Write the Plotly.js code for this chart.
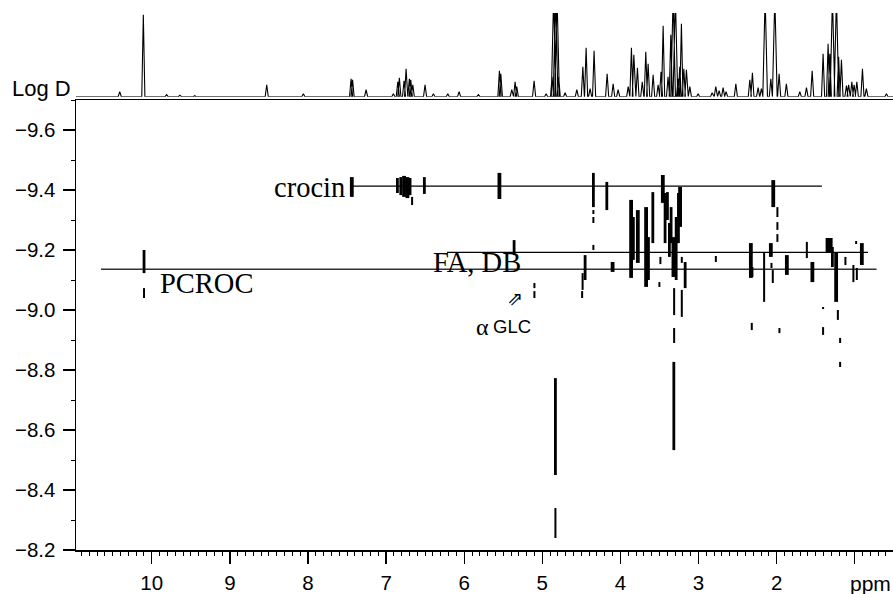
<!DOCTYPE html>
<html>
<head>
<meta charset="utf-8">
<script src="https://cdn.plot.ly/plotly-3.0.1.min.js"></script>
<style>html,body{margin:0;padding:0;background:#fff;}#plot{width:893px;height:594px;}</style>
</head>
<body>
<div id="plot"></div>
<script>
// ---- 1D projection spectrum (peak positions in ppm, heights in relative units, 100 = off scale) ----
const specPpm = [10.41, 10.108, 9.81, 9.64, 9.45, 8.528, 8.059, 7.448, 7.429, 7.256, 6.907, 6.850, 6.830, 6.770, 6.744, 6.702, 6.684, 6.658, 6.501, 6.394, 6.210, 6.065, 5.818, 5.549, 5.531, 5.391, 5.348, 5.327, 5.105, 4.951, 4.875, 4.855, 4.830, 4.811, 4.790, 4.708, 4.558, 4.481, 4.439, 4.388, 4.337, 4.170, 4.093, 4.029, 3.90, 3.859, 3.828, 3.782, 3.72, 3.675, 3.645, 3.581, 3.517, 3.48, 3.453, 3.390, 3.355, 3.325, 3.296, 3.262, 3.240, 3.219, 3.188, 3.155, 3.111, 3.005, 2.826, 2.779, 2.736, 2.685, 2.647, 2.522, 2.343, 2.310, 2.237, 2.195, 2.147, 2.074, 2.023, 1.968, 1.875, 1.703, 1.618, 1.545, 1.405, 1.341, 1.319, 1.285, 1.234, 1.206, 1.170, 1.106, 1.078, 1.037, 1.008, 0.973, 0.901, 0.851, 0.594];
const specHeight = [5, 82, 2, 1.5, 1, 12, 3, 18, 17, 7, 3, 15, 19, 16, 28, 18, 17, 12, 12, 3, 3, 5, 2, 26, 23, 7, 15, 10, 16, 3, 20, 100, 100, 100, 20, 4, 7, 30, 49, 8, 46, 23, 13, 7, 10, 49, 42, 29, 15, 45, 33, 22, 12, 25, 71, 20, 62, 100, 100, 18, 30, 73, 28, 27, 10, 3, 4, 10, 6, 9, 5, 13, 17, 24, 9, 8, 100, 18, 100, 23, 13, 5, 9, 26, 43, 53, 43, 100, 100, 40, 37, 11, 12, 15, 12, 15, 28, 8, 3];

// ---- DOSY cross peaks: chemical shift (ppm), log D extent, contour intensity class ----
const blobPpm = [10.099, 10.099, 7.439, 6.855, 6.812, 6.770, 6.727, 6.693, 6.667, 6.510, 5.549, 5.361, 5.101, 5.101, 4.346, 4.346, 4.346, 4.346, 4.174, 4.452, 4.484, 4.490, 4.100, 3.863, 3.834, 3.777, 3.671, 3.641, 3.585, 3.501, 3.488, 3.457, 3.428, 3.398, 3.373, 3.351, 3.321, 3.286, 3.257, 3.236, 3.214, 3.171, 3.312, 3.312, 3.316, 3.214, 4.832, 4.832, 2.778, 2.330, 2.310, 2.318, 2.160, 2.074, 2.066, 2.049, 2.043, 1.990, 1.990, 1.990, 1.964, 1.869, 1.613, 1.542, 1.405, 1.405, 1.328, 1.286, 1.238, 1.216, 1.187, 1.187, 1.119, 1.017, 0.973, 0.982, 0.909];
const blobTop = [-9.200, -9.073, -9.443, -9.440, -9.443, -9.447, -9.443, -9.440, -9.377, -9.443, -9.457, -9.233, -9.090, -9.063, -9.457, -9.333, -9.310, -9.217, -9.427, -9.183, -9.123, -9.063, -9.160, -9.367, -9.310, -9.333, -9.343, -9.243, -9.393, -9.093, -9.177, -9.450, -9.390, -9.393, -9.290, -9.343, -9.243, -9.310, -9.390, -9.410, -9.177, -9.160, -9.073, -8.940, -8.827, -9.067, -8.773, -8.340, -9.180, -9.223, -9.143, -8.957, -9.190, -9.223, -9.157, -9.133, -9.433, -9.343, -9.293, -9.253, -8.940, -9.183, -9.227, -9.160, -9.010, -8.943, -9.240, -9.210, -9.190, -9.000, -8.907, -8.827, -9.177, -9.150, -9.140, -9.230, -9.223];
const blobBottom = [-9.123, -9.040, -9.377, -9.390, -9.383, -9.377, -9.373, -9.383, -9.350, -9.387, -9.370, -9.183, -9.073, -9.040, -9.343, -9.320, -9.290, -9.200, -9.333, -9.100, -9.067, -9.040, -9.127, -9.107, -9.167, -9.157, -9.077, -9.100, -9.223, -9.077, -9.153, -9.357, -9.223, -9.300, -9.177, -9.223, -9.110, -9.100, -9.223, -9.277, -9.157, -9.073, -8.983, -8.890, -8.533, -8.977, -8.450, -8.240, -9.160, -9.107, -9.110, -8.933, -9.027, -9.177, -9.140, -9.090, -9.343, -9.310, -9.267, -9.227, -8.923, -9.117, -9.173, -9.093, -9.003, -8.917, -9.190, -9.143, -9.027, -8.967, -8.890, -8.810, -9.150, -9.093, -9.100, -9.220, -9.150];
const blobLevel = [2, 1, 3, 2, 2, 3, 3, 2, 1, 2, 3, 2, 1, 1, 2, 1, 1, 1, 2, 2, 1, 1, 3, 3, 2, 3, 3, 2, 2, 1, 1, 3, 2, 2, 2, 2, 3, 2, 2, 3, 1, 2, 1, 1, 2, 1, 2, 1, 1, 3, 1, 1, 1, 3, 1, 1, 3, 1, 1, 1, 1, 3, 1, 3, 1, 1, 4, 2, 3, 1, 1, 1, 1, 1, 1, 1, 3];

// ---- Diffusion bands of the assigned components ----
const compName = ['crocin', 'FA, DB', 'PCROC'];
const compLogD = [-9.413, -9.192, -9.136];
const compFrom = [7.46, 6.22, 10.65];
const compTo = [1.42, 0.83, 0.72];

// ---- Axis ticks ----
const xTickVals = [1, 2, 3, 4, 5, 6, 7, 8, 9, 10];
const xTickText = ['', '2', '3', '4', '5', '6', '7', '8', '9', '10'];
const yTickVals = [-9.6, -9.4, -9.2, -9.0, -8.8, -8.6, -8.4, -8.2];

const X_RANGE = [10.97, 0.51];
const Y_RANGE = [-8.2, -9.7];

const traces = [];

// spectrum trace built from the peak list
(function () {
  const idx = specPpm.map((_, i) => i).sort((a, b) => specPpm[b] - specPpm[a]);
  const xs = [X_RANGE[0]], ys = [0];
  idx.forEach(i => {
    const p = specPpm[i], h = specHeight[i];
    const hw = h >= 100 ? 0.03 : 0.02;
    xs.push(p + hw, p, p - hw);
    ys.push(0, h, 0);
  });
  xs.push(X_RANGE[1]); ys.push(0);
  traces.push({x: xs, y: ys, xaxis: 'x', yaxis: 'y2', mode: 'lines', type: 'scatter',
    line: {color: '#000', width: 1.1}, hoverinfo: 'skip', showlegend: false});
})();

// component lines
compName.forEach((n, i) => {
  traces.push({x: [compFrom[i], compTo[i]], y: [compLogD[i], compLogD[i]], mode: 'lines', type: 'scatter',
    line: {color: i === 2 ? '#333' : '#000', width: 1.4}, showlegend: false, hoverinfo: 'skip'});
});

// blobs
const widthByLevel = {1: 2, 2: 2.8, 3: 3.8, 4: 7};
[1, 2, 3, 4].forEach(lv => {
  const xs = [], ys = [];
  blobPpm.forEach((p, i) => {
    if (blobLevel[i] !== lv) return;
    xs.push(p, p, null);
    ys.push(blobTop[i], blobBottom[i], null);
  });
  traces.push({x: xs, y: ys, mode: 'lines', type: 'scatter', connectgaps: false,
    line: {color: '#000', width: widthByLevel[lv]}, showlegend: false, hoverinfo: 'skip'});
});

const sans = 'Liberation Sans, Arial, sans-serif';
const serif = 'Liberation Serif, Times New Roman, serif';

const layout = {
  width: 893, height: 594,
  margin: {l: 76, r: 0, t: 13, b: 44, pad: 0},
  paper_bgcolor: '#fff', plot_bgcolor: '#fff',
  showlegend: false,
  xaxis: {
    range: X_RANGE, showgrid: false, zeroline: false,
    showline: true, linecolor: '#000', linewidth: 1.5, mirror: true,
    ticks: 'outside', ticklen: 12, tickwidth: 1.3, tickcolor: '#000',
    tickvals: xTickVals, ticktext: xTickText, ticklabelstandoff: 2,
    tickfont: {family: sans, size: 20.5, color: '#000'},
    minor: {dtick: 0.1, tick0: 0, ticks: 'outside', ticklen: 4, tickwidth: 1, tickcolor: '#000', showgrid: false},
    anchor: 'y'
  },
  yaxis: {
    domain: [0, 450 / 537], range: Y_RANGE, showgrid: false, zeroline: false,
    showline: true, linecolor: '#000', linewidth: 1.5,
    ticks: 'outside', ticklen: 12, tickwidth: 1.3, tickcolor: '#000',
    tickvals: yTickVals, tickformat: '.1f', ticklabelstandoff: 3,
    tickfont: {family: sans, size: 20.5, color: '#000'},
    minor: {dtick: 0.1, tick0: 0, ticks: 'outside', ticklen: 4, tickwidth: 1, tickcolor: '#000', showgrid: false},
    anchor: 'x'
  },
  yaxis2: {
    domain: [(550 - 96.7) / 537, 1], range: [0, 83.7], visible: false, anchor: 'x',
    showgrid: false, zeroline: false
  },
  annotations: [
    {text: compName[0], x: 7.50, y: -9.41, xref: 'x', yref: 'y', xanchor: 'right', yanchor: 'middle',
      showarrow: false, font: {family: serif, size: 28.5, color: '#000'}},
    {text: compName[1], x: 5.83, y: -9.16, xref: 'x', yref: 'y', xanchor: 'center', yanchor: 'middle',
      showarrow: false, font: {family: serif, size: 28.5, color: '#000'}},
    {text: compName[2], x: 9.92, y: -9.087, xref: 'x', yref: 'y', xanchor: 'left', yanchor: 'middle',
      showarrow: false, font: {family: serif, size: 28.5, color: '#000'}},
    {text: 'α', x: 5.77, y: -8.942, xref: 'x', yref: 'y', xanchor: 'center', yanchor: 'middle',
      showarrow: false, font: {family: serif, size: 24, color: '#000'}},
    {text: 'GLC', x: 5.393, y: -8.945, xref: 'x', yref: 'y', xanchor: 'center', yanchor: 'middle',
      showarrow: false, font: {family: sans, size: 18.5, color: '#000'}},
    {text: '⇗', x: 5.35, y: -9.04, xref: 'x', yref: 'y', xanchor: 'center', yanchor: 'middle',
      showarrow: false, font: {family: 'DejaVu Sans', size: 19, color: '#000'}},
    {text: 'Log D', x: -0.004, y: 0, yshift: -6, xref: 'paper', yref: 'y2', xanchor: 'right', yanchor: 'bottom',
      showarrow: false, font: {family: sans, size: 22, color: '#000'}},
    {text: 'ppm', x: 1, y: -0.062, xref: 'paper', yref: 'paper', xanchor: 'right', yanchor: 'middle',
      showarrow: false, font: {family: sans, size: 21, color: '#000'}}
  ]
};

Plotly.newPlot('plot', traces, layout, {staticPlot: true, displayModeBar: false});
</script>
</body>
</html>
